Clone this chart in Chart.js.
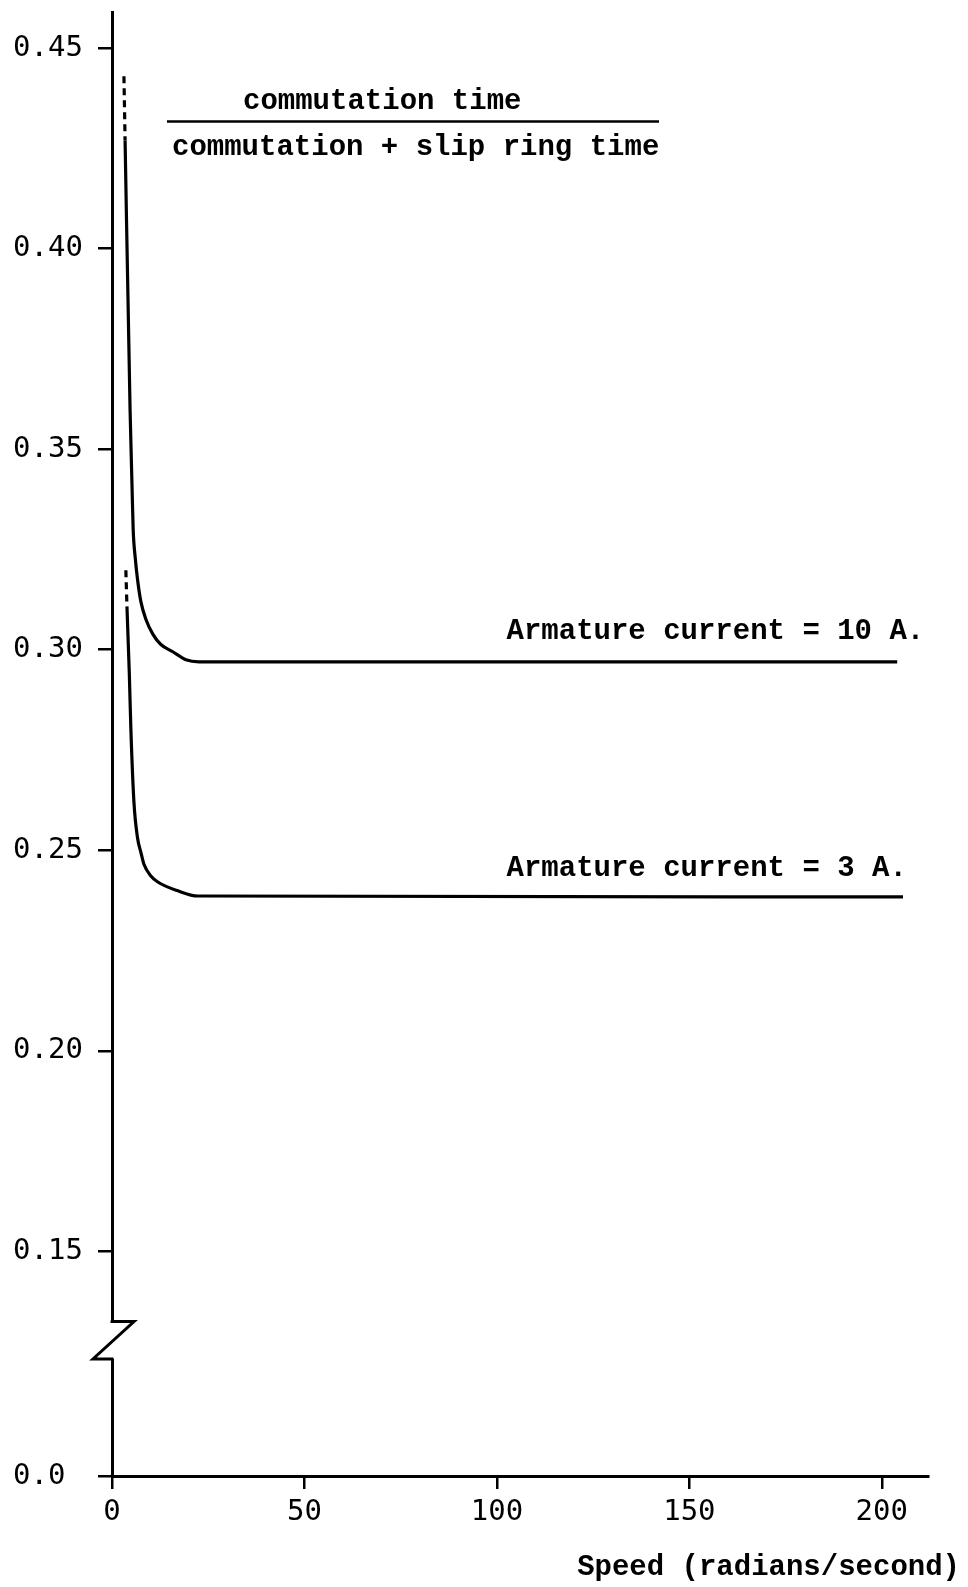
<!DOCTYPE html>
<html>
<head>
<meta charset="utf-8">
<script src="https://cdn.jsdelivr.net/npm/chart.js@4/dist/chart.umd.min.js"></script>
<style>
  body { margin: 0; background: #fff; }
  canvas { display: block; }
</style>
</head>
<body>
<canvas id="ratioChart" width="968" height="1587"></canvas>
<script>
// Armature current = 10 A
const speed10 = [3.1, 3.4, 4.7, 5.2, 5.5, 6.05, 6.7, 7.5, 8.8, 10.6, 12.7, 15.8, 19.2, 22.6, 204];
const ratio10 = [0.443, 0.427, 0.3597, 0.3409, 0.3300, 0.3228, 0.3170, 0.3120, 0.3076, 0.3039, 0.3013, 0.2995, 0.2975, 0.2970, 0.2970];

// Armature current = 3 A
const speed3 = [3.6, 3.9, 4.5, 4.9, 5.7, 6.65, 7.5, 8.3, 10.1, 11.9, 17.1, 22.3, 205.5];
const ratio3 = [0.3198, 0.3104, 0.2940, 0.2803, 0.2620, 0.2530, 0.2495, 0.2465, 0.2436, 0.2421, 0.2399, 0.2386, 0.2384];

// axis ticks
const xTicks = [0, 50, 100, 150, 200];
const yTicks = [0.15, 0.20, 0.25, 0.30, 0.35, 0.40, 0.45];

// y axis is broken: the bottom of the axis stands for 0.0
const Y_MIN = 0.094;
const Y_MAX = 0.459;
const BREAK_HI = 0.1325;
const BREAK_LO = 0.1232;

const monoFont = '"Liberation Mono", "Courier New", monospace';
const tickFont = { family: '"DejaVu Sans Mono", monospace', size: 29 };

const toPoints = (xs, ys) => xs.map((x, i) => ({ x: x, y: ys[i] }));

// first segment of each curve is dotted (extrapolated)
const dottedStart = ctx => ctx.p0DataIndex === 0 ? [7, 5] : undefined;

const annotations = {
  id: "annotations",
  afterDraw(chart) {
    const ctx = chart.ctx;
    const x = chart.scales.x;
    const y = chart.scales.y;
    const ax = chart.chartArea.left;

    // axis break zigzag
    const yTop = y.getPixelForValue(BREAK_HI);
    const yBot = y.getPixelForValue(BREAK_LO);
    ctx.save();
    ctx.fillStyle = "#fff";
    ctx.fillRect(ax - 4, yTop, 8, yBot - yTop);
    ctx.strokeStyle = "#000";
    ctx.lineWidth = 3;
    ctx.lineJoin = "miter";
    ctx.beginPath();
    ctx.moveTo(ax, yTop - 1);
    ctx.lineTo(ax, yTop);
    ctx.lineTo(ax + 22, yTop);
    ctx.lineTo(ax - 19, yBot);
    ctx.lineTo(ax, yBot);
    ctx.lineTo(ax, yBot + 1);
    ctx.stroke();

    // y quantity written as a fraction
    ctx.fillStyle = "#000";
    ctx.font = "bold 29px " + monoFont;
    ctx.textBaseline = "middle";
    ctx.textAlign = "left";
    ctx.fillText("commutation time", 243, 102);
    ctx.fillText("commutation + slip ring time", 172, 148);
    ctx.lineWidth = 2.5;
    ctx.beginPath();
    ctx.moveTo(167, 121.5);
    ctx.lineTo(659, 121.5);
    ctx.stroke();

    // curve labels
    const lx = x.getPixelForValue(102.5);
    ctx.fillText("Armature current = 10 A.", lx, y.getPixelForValue(ratio10[ratio10.length - 1]) - 30);
    ctx.fillText("Armature current = 3 A.", lx, y.getPixelForValue(ratio3[ratio3.length - 1]) - 28);

    // x axis title
    ctx.textAlign = "right";
    ctx.fillText("Speed (radians/second)", 960, 1568);
    ctx.restore();
  }
};

const ratioCtx = document.getElementById("ratioChart").getContext("2d");
const ratioChart = new Chart(ratioCtx, {
  type: "line",
  data: {
    datasets: [
      {
        label: "Armature current = 10 A",
        data: toPoints(speed10, ratio10),
        borderColor: "#000",
        borderWidth: 3.2,
        pointRadius: 0,
        cubicInterpolationMode: "monotone",
        segment: { borderDash: dottedStart },
      },
      {
        label: "Armature current = 3 A",
        data: toPoints(speed3, ratio3),
        borderColor: "#000",
        borderWidth: 3.2,
        pointRadius: 0,
        cubicInterpolationMode: "monotone",
        segment: { borderDash: dottedStart },
      },
    ],
  },
  options: {
    responsive: false,
    animation: false,
    devicePixelRatio: 1,
    layout: { padding: { top: 12, right: 40, left: 13, bottom: 0 } },
    plugins: { legend: { display: false }, tooltip: { enabled: false } },
    scales: {
      x: {
        type: "linear",
        min: 0,
        max: 212,
        afterBuildTicks: scale => { scale.ticks = xTicks.map(v => ({ value: v })); },
        afterFit: scale => {
          scale.height = 111;
          scale.paddingLeft = 0;
          scale.paddingRight = 0;
        },
        border: { color: "#000", width: 3 },
        grid: { drawOnChartArea: false, color: "#000", lineWidth: 2.5, tickLength: 13 },
        ticks: { color: "#000", font: tickFont, padding: 6, maxRotation: 0 },
      },
      y: {
        type: "linear",
        min: Y_MIN,
        max: Y_MAX,
        afterBuildTicks: scale => { scale.ticks = [Y_MIN].concat(yTicks).map(v => ({ value: v })); },
        afterFit: scale => {
          scale.width = 99;
          scale.paddingTop = 0;
          scale.paddingBottom = 0;
        },
        border: { color: "#000", width: 3 },
        grid: { drawOnChartArea: false, color: "#000", lineWidth: 2.5, tickLength: 14 },
        ticks: {
          color: "#000",
          font: tickFont,
          crossAlign: "far",
          callback: v => v === Y_MIN ? "0.0" : v.toFixed(2),
        },
      },
    },
  },
  plugins: [annotations],
});
</script>
</body>
</html>
